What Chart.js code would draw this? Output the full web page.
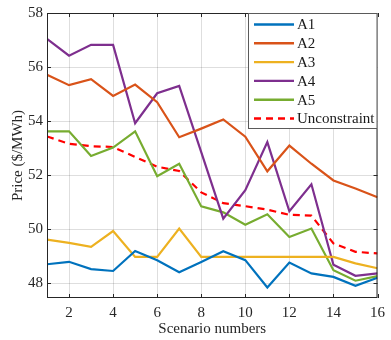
<!DOCTYPE html>
<html>
<head>
<meta charset="utf-8">
<script src="https://cdn.jsdelivr.net/npm/chart.js@4/dist/chart.umd.min.js"></script>
<style>
  body { margin: 0; background: #fff; }
  #box { width: 391px; height: 340px; }
</style>
</head>
<body>
<div id="box"><canvas id="myChart"></canvas></div>
<script>
// data
let scenarios = [1, 2, 3, 4, 5, 6, 7, 8, 9, 10, 11, 12, 13, 14, 15, 16];
let a1 = [48.70, 48.79, 48.52, 48.45, 49.19, 48.85, 48.40, 48.78, 49.18, 48.85, 47.84, 48.76, 48.36, 48.23, 47.90, 48.20];
let a2 = [55.71, 55.33, 55.55, 54.93, 55.35, 54.70, 53.40, 53.72, 54.06, 53.42, 52.14, 53.09, 52.42, 51.80, 51.50, 51.18];
let a3 = [49.61, 49.49, 49.34, 49.93, 48.97, 48.97, 50.02, 48.97, 48.97, 48.97, 48.97, 48.97, 48.97, 48.97, 48.73, 48.55];
let a4 = [57.04, 56.42, 56.82, 56.82, 53.92, 55.03, 55.30, 52.85, 50.39, 51.44, 53.22, 50.66, 51.66, 48.68, 48.27, 48.36];
let a5 = [53.62, 53.62, 52.71, 53.02, 53.62, 51.96, 52.42, 50.84, 50.62, 50.16, 50.55, 49.71, 50.02, 48.48, 48.09, 48.26];
let unconstraint = [53.43, 53.16, 53.07, 53.04, 52.67, 52.31, 52.15, 51.36, 50.96, 50.85, 50.72, 50.53, 50.50, 49.47, 49.16, 49.10];
let xTicks = [2, 4, 6, 8, 10, 12, 14, 16];
let yTicks = [48, 50, 52, 54, 56, 58];

let serif = "'Liberation Serif', 'Times New Roman', serif";

function toPoints(arr) {
  return arr.map(function(v, i) {
    return { x: scenarios[i], y: v };
  });
}

function makeSet(label, arr, color, dash) {
  return {
    label: label,
    data: toPoints(arr),
    borderColor: color,
    backgroundColor: color,
    borderWidth: 2.2,
    borderDash: dash || [],
    pointRadius: 0,
    tension: 0,
    fill: false
  };
}

// box around the axes + legend in the top right corner
let matlabBox = {
  id: "matlabBox",
  afterDraw: function(chart) {
    let ctx = chart.ctx;
    let a = chart.chartArea;
    ctx.save();
    ctx.strokeStyle = "#262626";
    ctx.lineWidth = 1;
    ctx.strokeRect(a.left + 0.5, a.top + 0.5, a.right - a.left - 1, a.bottom - a.top - 1);

    // inside tick marks
    let xs = chart.scales.x;
    let ys = chart.scales.y;
    ctx.beginPath();
    xTicks.forEach(function(t) {
      let px = Math.round(xs.getPixelForValue(t)) + 0.5;
      ctx.moveTo(px, a.bottom);
      ctx.lineTo(px, a.bottom - 4);
      ctx.moveTo(px, a.top);
      ctx.lineTo(px, a.top + 4);
    });
    yTicks.forEach(function(t) {
      let py = Math.round(ys.getPixelForValue(t)) + 0.5;
      ctx.moveTo(a.left, py);
      ctx.lineTo(a.left + 4, py);
      ctx.moveTo(a.right, py);
      ctx.lineTo(a.right - 4, py);
    });
    ctx.stroke();

    // legend
    let lx = 248, ly = a.top, lw = a.right - 248, lh = 116;
    ctx.fillStyle = "#fff";
    ctx.fillRect(lx, ly, lw, lh);
    ctx.strokeStyle = "#5a5a5a";
    ctx.strokeRect(lx + 0.5, ly + 0.5, lw - 1, lh - 1);
    ctx.font = "15px " + serif;
    ctx.textBaseline = "middle";
    chart.data.datasets.forEach(function(ds, i) {
      let y = ly + 11.5 + i * 18.8;
      ctx.strokeStyle = ds.borderColor;
      ctx.lineWidth = 2.4;
      ctx.setLineDash(ds.borderDash);
      ctx.beginPath();
      ctx.moveTo(254, y);
      ctx.lineTo(294, y);
      ctx.stroke();
      ctx.setLineDash([]);
      ctx.fillStyle = "#1a1a1a";
      ctx.fillText(ds.label, 297, y + 1);
    });
    ctx.restore();
  }
};

let ctx = document.getElementById("myChart").getContext("2d");
let chart = new Chart(ctx, {
  type: "line",
  data: {
    datasets: [
      makeSet("A1", a1, "#0072BD"),
      makeSet("A2", a2, "#D95319"),
      makeSet("A3", a3, "#EDB120"),
      makeSet("A4", a4, "#7E2F8E"),
      makeSet("A5", a5, "#77AC30"),
      makeSet("Unconstraint", unconstraint, "#FF0000", [7, 5])
    ]
  },
  options: {
    responsive: true,
    maintainAspectRatio: false,
    animation: false,
    layout: { padding: { left: 0, top: 12, right: 6, bottom: 0 } },
    plugins: {
      legend: { display: false },
      tooltip: { enabled: false }
    },
    scales: {
      x: {
        type: "linear",
        min: 1,
        max: 16,
        afterBuildTicks: function(s) {
          s.ticks = xTicks.map(function(v) { return { value: v }; });
        },
        afterFit: function(s) { s.height = 42; },
        grid: { color: "rgba(0,0,0,0.13)", drawTicks: false },
        border: { display: false },
        ticks: { color: "#262626", padding: 6, font: { family: serif, size: 15 } },
        title: {
          display: true,
          text: "Scenario numbers",
          color: "#262626",
          padding: { top: 0, bottom: 2 },
          font: { family: serif, size: 15 }
        }
      },
      y: {
        min: 47.45,
        max: 58,
        afterBuildTicks: function(s) {
          s.ticks = yTicks.map(function(v) { return { value: v }; });
        },
        afterFit: function(s) { s.width = 47; },
        grid: { color: "rgba(0,0,0,0.13)", drawTicks: false },
        border: { display: false },
        ticks: { color: "#262626", padding: 4, font: { family: serif, size: 15 } },
        title: {
          display: true,
          text: "Price ($/MWh)",
          color: "#262626",
          padding: { top: 9, bottom: 0 },
          font: { family: serif, size: 15 }
        }
      }
    }
  },
  plugins: [matlabBox]
});
</script>
</body>
</html>
